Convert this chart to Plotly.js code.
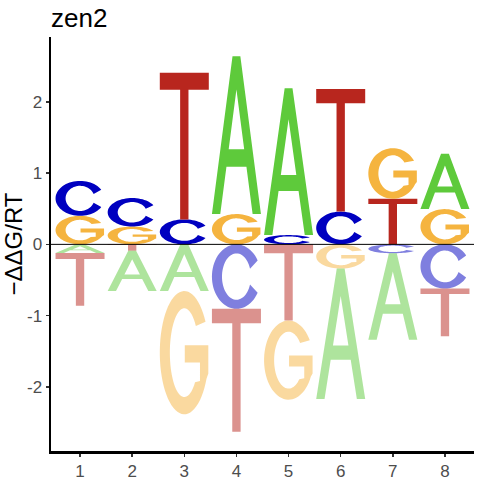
<!DOCTYPE html>
<html>
<head>
<meta charset="utf-8">
<script src="https://cdn.plot.ly/plotly-3.0.1.min.js"></script>
<style>html,body{margin:0;padding:0;background:#fff;}#chart{width:480px;height:480px;}</style>
</head>
<body>
<div id="chart"></div>
<script>
// ---- data (−ΔΔG/RT per position and base) ----
var positions = [1, 2, 3, 4, 5, 6, 7, 8];
var bases = ["A", "C", "G", "T"];
var valA = [-0.12, -0.565, -0.655, 2.215, 2.06, -1.83, -1.215, 0.775];
var valC = [0.49, 0.40, 0.35, -0.905, 0.13, 0.46, -0.125, -0.62];
var valG = [0.40, 0.25, -1.73, 0.425, -1.11, -0.34, 0.71, 0.495];
var valT = [-0.74, -0.09, 2.06, -1.725, -1.07, 1.72, 0.64, -0.67];
var yTicks = [-2, -1, 0, 1, 2];
var titleText = "zen2";
var yTitle = "\u2212\u0394\u0394G/RT";

// ---- style ----
var baseColors = {A: "#5ECA3B", C: "#0000C0", G: "#F5B43F", T: "#B8261E"};
var letterWidth = 0.94;

// ---- glyph outlines in a unit box ----
function arc(cx, cy, rx, ry, a0, a1, n) {
  var pts = [];
  for (var i = 0; i <= n; i++) {
    var a = (a0 + (a1 - a0) * i / n) * Math.PI / 180;
    pts.push([cx + rx * Math.cos(a), cy + ry * Math.sin(a)]);
  }
  return pts;
}
var RXI = 0.295, RYI = 0.36;
var glyphs = {
  A: [
    [[0, 0], [0.42, 1], [0.58, 1], [1, 0], [0.83, 0], [0.704, 0.30], [0.296, 0.30], [0.17, 0]],
    [[0.342, 0.41], [0.658, 0.41], [0.5, 0.79]]
  ],
  T: [
    [[0, 1], [1, 1], [1, 0.883], [0.585, 0.883], [0.585, 0], [0.415, 0], [0.415, 0.883], [0, 0.883]]
  ],
  C: [
    arc(0.5, 0.5, 0.5, 0.5, 30, 330, 60).concat(arc(0.5, 0.5, RXI, RYI, 340, 20, 60))
  ],
  G: [
    arc(0.5, 0.5, 0.5, 0.5, 30, 335, 60)
      .concat([[0.99, 0.33], [0.99, 0.56], [0.51, 0.56], [0.51, 0.42], [0.82, 0.42], [0.82, 0.27]])
      .concat(arc(0.5, 0.5, RXI, RYI, 318, 37, 60))
  ]
};

function glyphPath(letter, xc, y0, h) {
  var s = "";
  glyphs[letter].forEach(function (poly) {
    poly.forEach(function (p, i) {
      var x = xc - letterWidth / 2 + p[0] * letterWidth;
      var y = y0 + p[1] * h;
      s += (i === 0 ? "M" : "L") + x.toFixed(4) + "," + y.toFixed(5);
    });
    s += "Z";
  });
  return s;
}

var valuesByBase = {A: valA, C: valC, G: valG, T: valT};
var shapes = [];
positions.forEach(function (pos, i) {
  var items = bases.map(function (b) { return {b: b, v: valuesByBase[b][i]}; });
  items.sort(function (p, q) { return Math.abs(p.v) - Math.abs(q.v); });
  var up = 0, down = 0;
  items.forEach(function (it) {
    var h = Math.abs(it.v), y0;
    if (it.v >= 0) { y0 = up; up += h; }
    else { down += h; y0 = -down; }
    shapes.push({
      type: "path", xref: "x", yref: "y", layer: "above",
      path: glyphPath(it.b, pos, y0, h),
      fillcolor: baseColors[it.b], fillrule: "evenodd",
      opacity: it.v >= 0 ? 1 : 0.5,
      line: {width: 0}
    });
  });
});
// zero line
shapes.push({type: "line", xref: "paper", yref: "y", x0: 0, x1: 1, y0: 0, y1: 0,
  layer: "above", line: {color: "#000", width: 1}});

var trace = {
  x: positions, y: positions.map(function () { return 0; }),
  type: "scatter", mode: "markers", marker: {opacity: 0},
  hoverinfo: "skip", showlegend: false
};

var layout = {
  width: 480, height: 480,
  margin: {l: 51, r: 6, t: 37, b: 29},
  paper_bgcolor: "#fff", plot_bgcolor: "#fff",
  font: {family: "Liberation Sans, Arial, sans-serif", color: "#000"},
  title: {text: titleText, font: {size: 26, color: "#000"},
    xref: "paper", x: 0, xanchor: "left", yref: "container", y: 1 - 18 / 480, yanchor: "middle"},
  showlegend: false,
  xaxis: {
    range: [0.443, 8.557], tickvals: positions, ticktext: positions.map(String),
    showgrid: false, zeroline: false, showline: true, linecolor: "#000", linewidth: 2.5,
    ticks: "outside", ticklen: 3, tickwidth: 1.5, tickcolor: "#333",
    tickfont: {size: 17, color: "#4D4D4D"}
  },
  yaxis: {
    range: [-2.9, 2.91], tickvals: yTicks, ticktext: yTicks.map(String),
    showgrid: false, zeroline: false, showline: true, linecolor: "#000", linewidth: 2.5,
    ticks: "outside", ticklen: 3, tickwidth: 1.5, tickcolor: "#333",
    tickfont: {size: 17, color: "#4D4D4D"},
    title: {text: yTitle, font: {size: 24, color: "#000"}, standoff: 8}
  },
  shapes: shapes
};

Plotly.newPlot("chart", [trace], layout, {displayModeBar: false, staticPlot: true});
</script>
</body>
</html>
